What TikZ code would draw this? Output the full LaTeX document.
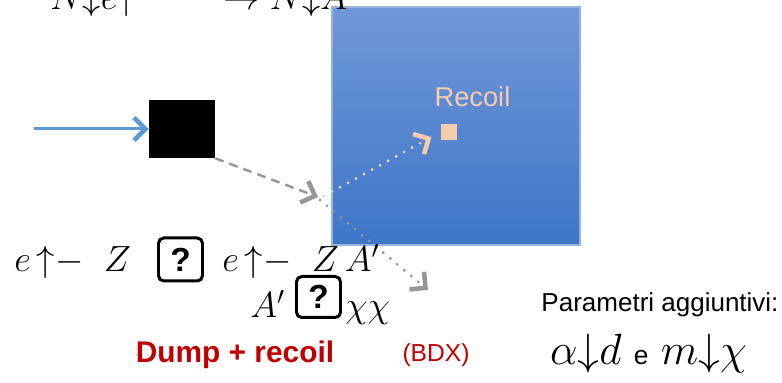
\documentclass[tikz,border=0pt]{standalone}
\usepackage{fontspec}
\setsansfont{Liberation Sans}
\usetikzlibrary{arrows.meta,positioning}
\definecolor{BeamBlue}{RGB}{91,155,213}
\definecolor{RecoilPeach}{RGB}{248,203,173}
\definecolor{TrackGray}{RGB}{150,150,150}
\definecolor{DumpRed}{RGB}{192,0,0}
\definecolor{DetTop}{RGB}{112,152,216}
\definecolor{DetBottom}{RGB}{62,118,200}
\definecolor{DetEdge}{RGB}{150,178,225}

\tikzset{
  chev/.style={-{Straight Barb[length=6.5pt,width=13pt,line width=2.6pt]}},
  dots/.style={line width=1.8pt, line cap=round, dash pattern=on 0pt off 5.2pt},
  qbox/.style={draw, line width=1.7pt, rounded corners=3pt, minimum width=0.88cm,
    minimum height=0.86cm, inner sep=0pt, font=\sffamily\bfseries\fontsize{19}{19}\selectfont},
  formula/.style={inner sep=0pt, font=\fontsize{20}{20}\selectfont}
}

\begin{document}
\begin{tikzpicture}
  \useasboundingbox (0,0) rectangle (15.64,7.66);

  % Detector
  \shade[top color=DetTop, bottom color=DetBottom] (6.64,2.76) rectangle (11.6,7.52);
  \draw[DetEdge, line width=0.6pt] (6.64,2.76) rectangle (11.6,7.52);

  % Header (cut at the top)
  \node[formula, anchor=base west] (ne) at (1.0,7.46) {$N{\downarrow}e{\uparrow}$};
  \node[formula, anchor=base east] (na) at (6.95,7.46) {$\rightarrow N{\downarrow}A$};

  % Beam and dump
  \node[fill=black, minimum width=1.32cm, minimum height=1.16cm, inner sep=0pt] (dump) at (3.64,5.08) {};
  \coordinate (beam) at (0.68,5.08);
  \draw[BeamBlue, line width=1.7pt, chev] (beam) -- (dump.west);

  % Interaction
  \coordinate (vertex) at (6.36,3.72);
  \coordinate (out) at (8.56,1.86);
  \node[fill=RecoilPeach, minimum size=0.32cm, inner sep=0pt] (nucleus) at (8.98,5.02) {};
  \node[RecoilPeach, font=\sffamily\fontsize{15.5}{15.5}\selectfont] (recoil) at (9.45,5.72) {Recoil};
  \draw[TrackGray, line width=1.4pt, dash pattern=on 5pt off 3.5pt, chev] (dump.south east) -- (vertex);
  \draw[RecoilPeach, dots, chev, shorten >=6pt] ([shift={(0.12,0.02)}]vertex) -- (nucleus.west);
  \draw[TrackGray, dots, chev] ([shift={(0.04,-0.06)}]vertex) -- (out);

  % Process
  \node[formula, anchor=base west] (lhs) at (0.28,2.22) {$e\,{\uparrow}{-}\;\;Z$};
  \node[qbox] (q1) at (3.61,2.47) {?};
  \node[formula, anchor=base west] (rhs) at (4.44,2.22) {$e\,{\uparrow}{-}\;\;Z\,A'$};
  \node[formula, anchor=base west] (aprime) at (5.0,1.30) {$A'$};
  \node[qbox, minimum height=0.82cm] (q2) at (6.37,1.72) {?};
  \node[formula, anchor=base west] (chichi) at (6.9,1.30) {$\chi\chi$};

  % Labels
  \node[DumpRed, font=\sffamily\bfseries\fontsize{17}{17}\selectfont] (dumplbl) at (4.70,0.56) {Dump + recoil};
  \node[DumpRed, font=\sffamily\fontsize{14}{14}\selectfont] (bdx) at (8.72,0.56) {(BDX)};
  \node[font=\sffamily\fontsize{14.8}{14.8}\selectfont] (param) at (13.2,1.56) {Parametri aggiuntivi:};
  \node[formula, anchor=base, font=\fontsize{23}{23}\selectfont] (coupl) at (12.97,0.36)
    {$\alpha{\downarrow}d$\ {\sffamily\fontsize{15}{15}\selectfont e}\ $m{\downarrow}\chi$};
\end{tikzpicture}
\end{document}
